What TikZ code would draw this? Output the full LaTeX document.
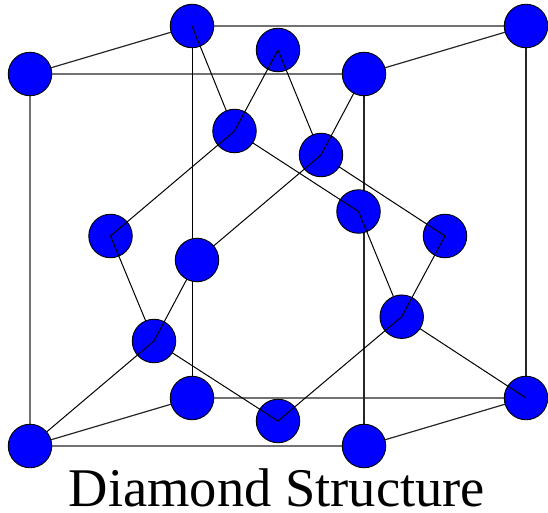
\documentclass[tikz,border=0pt]{standalone}
\usepackage{fontspec}
\setmainfont{Liberation Serif}
\tikzset{
  atom/.style={circle,draw=black,fill=blue,line width=0.9pt,minimum size=43.5pt,inner sep=0pt},
  bond/.style={black,line width=1pt,line join=round},
  edge line/.style={black!85,line width=1.2pt,line join=round},
  title/.style={anchor=base,inner sep=0pt,font=\fontsize{54.5pt}{60pt}\selectfont}
}
\begin{document}
\begin{tikzpicture}[x=1pt,y=-1pt]
\useasboundingbox (0,0) rectangle (548,513);
\coordinate (ftl) at (30,74);
\coordinate (btl) at (192,26);
\coordinate (btr) at (526,26);
\coordinate (ftr) at (364,74);
\coordinate (fbl) at (30,446);
\coordinate (bbl) at (192,398);
\coordinate (bbr) at (526,398);
\coordinate (fbr) at (364,446);
\coordinate (bc) at (197,260);
% cube edges
\draw[edge line] (ftl) -- (ftr) -- (btr) -- (btl) -- (ftl) -- (fbl) -- (fbr) -- (bbr) -- (bbl) -- (fbl);
\draw[edge line] (ftr) -- (fbr);
\draw[edge line] (btr) -- (bbr);
\draw[bond] (btl) -- (bbl);
% rear atoms
\node[atom] (aBTL) at (btl) {};
\node[atom] (aBBR) at (bbr) {};
\node[atom] (aT) at (278,50) {};
\node[atom] (aL) at (110.5,236) {};
\node[atom] (aR) at (445,236) {};
\node[atom] (aB) at (278,421) {};
\node[atom] (aF) at (358.5,211.5) {};
% interior positions
\coordinate (c1) at (234.5,131);
\coordinate (c2) at (321,155);
\coordinate (c3) at (154,341);
\coordinate (c4) at (401.7,316.7);
% bonds hidden by the interior atoms
\draw[bond] (c1) -- (aBTL.center);
\draw[bond] (c1) -- (aF.center);
\draw[bond] (c2) -- (aT.center);
\draw[bond] (c2) -- (aR.center);
\draw[bond] (c3) -- (aL.center);
\draw[bond] (c3) -- (aB.center);
\draw[bond] (c4) -- (aF.center);
\draw[bond] (c4) -- (aBBR.center);
% interior atoms
\node[atom] (i1) at (c1) {};
\node[atom] (i2) at (c2) {};
\node[atom] (i3) at (c3) {};
\node[atom] (i4) at (c4) {};
% bonds that show over the interior atoms
\draw[bond] (i1.center) -- (aT.center);
\draw[bond] (i1.center) -- (aL.center);
\draw[bond] (i2.center) -- (ftr);
\draw[bond] (i2.center) -- (bc);
\draw[bond] (i3.center) -- (bc);
\draw[bond] (i3.center) -- (fbl);
\draw[bond] (i4.center) -- (aR.center);
\draw[bond] (i4.center) -- (aB.center);
% front atoms
\node[atom] (aFTL) at (ftl) {};
\node[atom] (aFTR) at (ftr) {};
\node[atom] (aFBL) at (fbl) {};
\node[atom] (aFBR) at (fbr) {};
\node[atom] (aBTR) at (btr) {};
\node[atom] (aBBL) at (bbl) {};
\node[atom] (aBC) at (bc) {};
\node[title] (cap) at (277,506.5) {Diamond Structure};
\end{tikzpicture}
\end{document}
